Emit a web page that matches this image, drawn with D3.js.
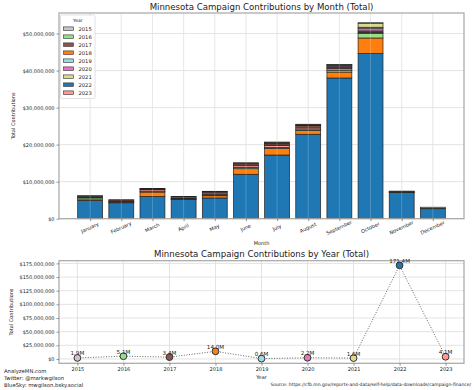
<!DOCTYPE html>
<html><head><meta charset="utf-8">
<script src="https://cdn.jsdelivr.net/npm/d3@7"></script>
<style>body{margin:0;background:#fff}svg{display:block;font-family:"DejaVu Sans",sans-serif}</style>
</head><body><svg id="c" width="474" height="390"></svg>
<script>
const months = ["January","February","March","April","May","June","July","August","September","October","November","December"];
const years = ["2015","2016","2017","2018","2019","2020","2021","2022","2023"];
const yearColors = ["#c7c7c7","#98df8a","#8c564b","#ff7f0e","#9edae5","#e377c2","#dbdb8d","#1f77b4","#ff9896"];
// stack order, bottom to top
const stackOrder = ["2022","2018","2016","2023","2017","2020","2015","2021","2019"];
// monthly contributions in millions of dollars, by year
const m2015 = [0.3,0.05,0.1,0.05,0.1,0.1,0.2,0.1,0.2,0.4,0.1,0.0];
const m2016 = [0.5,0.05,0.1,0.05,0.1,0.3,0.2,0.2,0.5,1.2,0.05,0.3];
const m2017 = [0.2,0.4,0.2,0.4,0.6,0.5,0.4,0.6,0.4,0.4,0.1,0.0];
const m2018 = [0.2,0.1,1.2,0.1,0.6,1.5,1.8,1.0,1.6,4.2,0.05,0.1];
const m2019 = [0.0,0.0,0.0,0.0,0.0,0.0,0.0,0.0,0.05,0.1,0.0,0.0];
const m2020 = [0.1,0.0,0.05,0.0,0.1,0.1,0.2,0.2,0.3,0.6,0.0,0.0];
const m2021 = [0.0,0.0,0.0,0.0,0.0,0.1,0.1,0.1,0.2,1.1,0.0,0.0];
const m2022 = [4.9,4.3,6.0,5.2,5.6,12.0,17.2,22.8,38.0,44.6,7.1,2.7];
const m2023 = [0.1,0.2,0.5,0.2,0.3,0.5,0.6,0.5,0.4,0.3,0.05,0.0];
const monthly = {"2015":m2015,"2016":m2016,"2017":m2017,"2018":m2018,"2019":m2019,"2020":m2020,"2021":m2021,"2022":m2022,"2023":m2023};
// yearly totals in millions
const yearTotals = [1.9,5.1,3.4,14.0,0.6,2.2,1.6,171.4,4.1];
const yearLabels = ["1.9M","5.1M","3.4M","14.0M","0.6M","2.2M","1.6M","171.4M","4.1M"];
const topTicks = [0,10,20,30,40,50];
const botTicks = [0,25,50,75,100,125,150,175];

const svg = d3.select("#c");
const color = d3.scaleOrdinal(years, yearColors);
const fmt = v => "$" + d3.format(",")(Math.round(v*1e6));
const gridC = "#dcdcdc", frameC = "#a6a6a6", textC = "#222";
const tickFont = 5;

// ---------- TOP CHART ----------
const T = {l:59, r:464, t:13, b:218.7};
const rows = months.map((m,i)=>{const o={month:m}; years.forEach(y=>o[y]=monthly[y][i]); return o;});
const series = d3.stack().keys(stackOrder)(rows);
const maxTot = d3.max(rows, r=>d3.sum(years, y=>r[y]));
const yT = d3.scaleLinear().domain([0, maxTot*1.05]).range([T.b, T.t]);
const xT = d3.scaleLinear().domain([-1, 12]).range([T.l, T.r]);
const gT = svg.append("g");
gT.append("g").selectAll("line").data(topTicks).join("line")
  .attr("x1",T.l).attr("x2",T.r).attr("y1",d=>yT(d)).attr("y2",d=>yT(d)).attr("stroke",gridC).attr("stroke-width",0.8);
gT.append("g").selectAll("line").data(months).join("line")
  .attr("x1",(d,i)=>xT(i)).attr("x2",(d,i)=>xT(i)).attr("y1",T.t).attr("y2",T.b).attr("stroke",gridC).attr("stroke-width",0.8);
const bw = xT(0.8)-xT(0);
gT.append("g").selectAll("g").data(series).join("g").attr("fill",d=>color(d.key))
  .selectAll("rect").data(d=>d).join("rect")
  .attr("x",(d,i)=>xT(i)-bw/2).attr("width",bw)
  .attr("y",d=>yT(d[1])).attr("height",d=>Math.max(0,yT(d[0])-yT(d[1])))
  .attr("stroke","#222").attr("stroke-width",0.7);
gT.append("g").selectAll("line").data(months).join("line")
  .attr("x1",(d,i)=>xT(i)).attr("x2",(d,i)=>xT(i)).attr("y1",T.t).attr("y2",T.b).attr("stroke","#fff").attr("stroke-opacity",0.25).attr("stroke-width",0.8);
gT.append("rect").attr("x",T.l).attr("y",T.t).attr("width",T.r-T.l).attr("height",T.b-T.t).attr("fill","none").attr("stroke",frameC).attr("stroke-width",1.2);
const yAxT = d3.axisLeft(yT).tickValues(topTicks).tickFormat(fmt).tickSize(2.5).tickPadding(2);
const ya = gT.append("g").attr("transform",`translate(${T.l},0)`).call(yAxT);
ya.select(".domain").remove();
ya.selectAll("line").attr("stroke","#555").attr("stroke-width",0.6);
ya.selectAll("text").attr("font-size",tickFont).attr("fill",textC).attr("font-family","DejaVu Sans");
const xAxT = d3.axisBottom(xT).tickValues(d3.range(12)).tickFormat(i=>months[i]).tickSize(2.5).tickPadding(2);
const xa = gT.append("g").attr("transform",`translate(0,${T.b})`).call(xAxT);
xa.select(".domain").remove();
xa.selectAll("line").attr("stroke","#555").attr("stroke-width",0.6);
xa.selectAll("text").attr("font-size",tickFont).attr("fill",textC).attr("font-family","DejaVu Sans")
  .attr("text-anchor","middle").attr("dy",null).attr("y",null)
  .attr("transform","translate(0,10.5) rotate(-25)");
svg.append("text").attr("x",(T.l+T.r)/2).attr("y",10).attr("text-anchor","middle").attr("font-size",8.6).attr("fill",textC)
  .text("Minnesota Campaign Contributions by Month (Total)");
svg.append("text").attr("x",(T.l+T.r)/2).attr("y",244.5).attr("text-anchor","middle").attr("font-size",tickFont).attr("fill",textC).text("Month");
svg.append("text").attr("transform",`translate(15,${(T.t+T.b)/2}) rotate(-90)`).attr("text-anchor","middle").attr("font-size",tickFont).attr("fill",textC).text("Total Contributions");
// legend
const lg = svg.append("g");
lg.append("rect").attr("x",60.5).attr("y",15).attr("width",34.5).attr("height",83.5).attr("rx",1.5).attr("fill","#fff").attr("fill-opacity",0.85).attr("stroke","#ccc").attr("stroke-width",0.6);
lg.append("text").attr("x",77.8).attr("y",22).attr("text-anchor","middle").attr("font-size",4.5).attr("fill",textC).text("Year");
const le = lg.selectAll("g.e").data(years).join("g").attr("class","e").attr("transform",(d,i)=>`translate(0,${28.7+i*8})`);
le.append("rect").attr("x",63.5).attr("y",-1.8).attr("width",10).attr("height",3.6).attr("fill",d=>color(d)).attr("stroke","#333").attr("stroke-width",0.6);
le.append("text").attr("x",78.5).attr("y",1.9).attr("font-size",5.2).attr("fill",textC).text(d=>d);

// ---------- BOTTOM CHART ----------
const B = {l:59, r:464, t:260.7, b:363.3};
const yExt = d3.extent(yearTotals), pad = (yExt[1]-yExt[0])*0.05;
const yB = d3.scaleLinear().domain([yExt[0]-pad, yExt[1]+pad]).range([B.b, B.t]);
const xB = d3.scaleLinear().domain([2015-0.4, 2023+0.4]).range([B.l, B.r]);
const gB = svg.append("g");
gB.append("g").selectAll("line").data(botTicks).join("line")
  .attr("x1",B.l).attr("x2",B.r).attr("y1",d=>yB(d)).attr("y2",d=>yB(d)).attr("stroke",gridC).attr("stroke-width",0.8);
gB.append("g").selectAll("line").data(years).join("line")
  .attr("x1",d=>xB(+d)).attr("x2",d=>xB(+d)).attr("y1",B.t).attr("y2",B.b).attr("stroke",gridC).attr("stroke-width",0.8);
gB.append("rect").attr("x",B.l).attr("y",B.t).attr("width",B.r-B.l).attr("height",B.b-B.t).attr("fill","none").attr("stroke",frameC).attr("stroke-width",1.2);
const pts = years.map((y,i)=>({year:+y, key:y, v:yearTotals[i], label:yearLabels[i]}));
gB.append("path").datum(pts).attr("d",d3.line().x(d=>xB(d.year)).y(d=>yB(d.v)))
  .attr("fill","none").attr("stroke","#555").attr("stroke-width",0.9).attr("stroke-dasharray","1,1.6");
gB.append("g").selectAll("circle").data(pts).join("circle")
  .attr("cx",d=>xB(d.year)).attr("cy",d=>yB(d.v)).attr("r",3.4)
  .attr("fill",d=>color(d.key)).attr("stroke","#333").attr("stroke-width",1);
gB.append("g").selectAll("text").data(pts).join("text")
  .attr("x",d=>xB(d.year)).attr("y",d=>yB(d.v)-2.5).attr("text-anchor","middle").attr("font-size",5.6).attr("fill",textC).text(d=>d.label);
const yAxB = d3.axisLeft(yB).tickValues(botTicks).tickFormat(fmt).tickSize(2.5).tickPadding(2);
const yb = gB.append("g").attr("transform",`translate(${B.l},0)`).call(yAxB);
yb.select(".domain").remove();
yb.selectAll("line").attr("stroke","#555").attr("stroke-width",0.6);
yb.selectAll("text").attr("font-size",tickFont).attr("fill",textC).attr("font-family","DejaVu Sans");
const xAxB = d3.axisBottom(xB).tickValues(years.map(Number)).tickFormat(d3.format("d")).tickSize(2.5).tickPadding(1.5);
const xb = gB.append("g").attr("transform",`translate(0,${B.b})`).call(xAxB);
xb.select(".domain").remove();
xb.selectAll("line").attr("stroke","#555").attr("stroke-width",0.6);
xb.selectAll("text").attr("font-size",tickFont).attr("fill",textC).attr("font-family","DejaVu Sans");
svg.append("text").attr("x",(B.l+B.r)/2).attr("y",257).attr("text-anchor","middle").attr("font-size",8.6).attr("fill",textC)
  .text("Minnesota Campaign Contributions by Year (Total)");
svg.append("text").attr("x",(B.l+B.r)/2).attr("y",378.5).attr("text-anchor","middle").attr("font-size",tickFont).attr("fill",textC).text("Year");
svg.append("text").attr("transform",`translate(13,${(B.t+B.b)/2}) rotate(-90)`).attr("text-anchor","middle").attr("font-size",tickFont).attr("fill",textC).text("Total Contributions");
// footer
const foot = ["AnalyzeMN.com","Twitter: @markwgilson","BlueSky: mwgilson.bsky.social"];
svg.append("g").selectAll("text").data(foot).join("text").attr("x",4).attr("y",(d,i)=>373+i*7.2).attr("font-size",5.3).attr("fill",textC).text(d=>d);
svg.append("text").attr("x",471).attr("y",385.5).attr("text-anchor","end").attr("font-size",4.5).attr("fill",textC)
  .text("Source: https://cfb.mn.gov/reports-and-data/self-help/data-downloads/campaign-finance/");
</script></body></html>
